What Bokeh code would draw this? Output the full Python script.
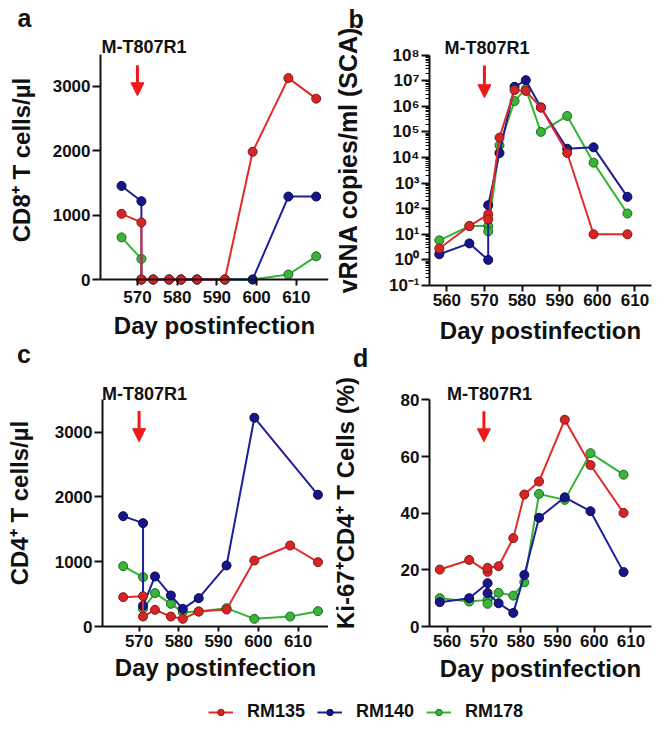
import math
from bokeh.plotting import figure
from bokeh.layouts import column, row
from bokeh.models import (Range1d, FixedTicker, Label, Arrow, NormalHead, Span,
                          Legend, LegendItem, Div)
from bokeh.embed import file_html
from bokeh.resources import INLINE

FONT = "Liberation Sans"
TXT = "#111111"
ARROW_COLOR = "#EE1A1A"

# ---------------- data ----------------
treatment_day = 570
treatment_label = "M-T807R1"
animals = ["RM135", "RM140", "RM178"]

# panel a : CD8+ T cells/ul
a_days = [566, 571, 571, 574, 578, 581, 585, 592, 599, 608, 615]
a_rm135 = [1020, 886, 0, 0, 0, 0, 0, 0, 1983, 3127, 2808]
a_rm140 = [1453, 1216, 0, 0, 0, 0, 0, 0, 0, 1288, 1288]
a_rm178 = [654, 320, 0, 0, 0, 0, 0, 0, 0, 77, 360]

# panel b : vRNA copies/ml (SCA)
b_days = [558, 566, 571, 571, 574, 578, 581, 585, 592, 599, 608]
b_rm135 = [2.8, 21, 60, 38, 6.0e4, 4.3e6, 4.0e6, 9.0e5, 1.5e4, 10, 10]
b_rm140 = [1.66, 4.4, 1.0, 137, 1.5e4, 5.8e6, 1.05e7, 9.0e5, 2.2e4, 2.5e4, 290]
b_rm178 = [5.8, 21, 21, 13, 3.0e4, 1.6e6, 4.8e6, 1.0e5, 4.2e5, 6.3e3, 65]

# panel c : CD4+ T cells/ul
c_days = [566, 571, 571, 574, 578, 581, 585, 592, 599, 608, 615]
c_days_rm140 = [566, 571, 571, 574, 578, 581, 585, 592, 599, 615]
c_rm135 = [453, 468, 154, 257, 154, 118, 231, 262, 1019, 1250, 993]
c_rm140 = [1703, 1595, 320, 772, 479, 273, 437, 942, 3222, 2033]
c_rm178 = [931, 762, 273, 515, 350, 221, 231, 283, 118, 154, 237]

# panel d : Ki-67+CD4+ T cells (%)
d_days = [558, 566, 571, 571, 574, 578, 581, 585, 592, 599, 608]
d_rm135 = [20.1, 23.5, 19.3, 20.7, 21.3, 31.2, 46.6, 51.2, 73.0, 57.0, 40.1]
d_rm140 = [8.6, 10.0, 15.3, 11.8, 8.2, 4.8, 18.2, 38.4, 45.6, 40.7, 19.2]
d_rm178 = [10.0, 8.8, 9.4, 8.0, 11.9, 10.9, 15.6, 46.8, 44.7, 61.2, 53.6]

a_xticks = [570, 580, 590, 600, 610]
b_xticks = [560, 570, 580, 590, 600, 610]
a_yticks = [0, 1000, 2000, 3000]
d_yticks = [0, 20, 40, 60, 80]
b_exponents = list(range(-1, 9))

LINE = {"RM135": "#E12A2A", "RM140": "#1E1E9C", "RM178": "#33B533"}
FILL = {"RM135": "#D42626", "RM140": "#16168A", "RM178": "#3AB43A"}
EDGE = {"RM135": "#8A1515", "RM140": "#0A0A4A", "RM178": "#1F6A1F"}

SUP = str.maketrans("-0123456789", "⁻⁰¹²³⁴⁵⁶⁷⁸⁹")
W = 666


def make_fig(w, h, borders, xr, yr, ybounds, ylog=False):
    l, r, t, b = borders
    p = figure(width=w, height=h, x_range=Range1d(*xr), y_range=Range1d(*yr),
               y_axis_type="log" if ylog else "linear",
               output_backend="svg", toolbar_location=None,
               min_border_left=l, min_border_right=r, min_border_top=t,
               min_border_bottom=b)
    p.outline_line_color = None
    p.xgrid.visible = False
    p.ygrid.visible = False
    p.background_fill_color = "white"
    p.border_fill_color = "white"
    for ax in (p.xaxis[0], p.yaxis[0]):
        ax.axis_line_width = 2
        ax.axis_line_color = TXT
        ax.major_tick_line_width = 2
        ax.major_tick_line_color = TXT
        ax.major_tick_in = 0
        ax.minor_tick_line_color = None
        ax.major_label_text_font = FONT
        ax.major_label_text_font_style = "bold"
        ax.major_label_text_font_size = "17px"
        ax.major_label_text_color = TXT
        ax.axis_label_text_font = FONT
        ax.axis_label_text_font_style = "bold"
        ax.axis_label_text_font_size = "24px"
        ax.axis_label_text_color = TXT
    p.yaxis[0].bounds = ybounds
    return p


def add_series(p, days, vals, name):
    lr = p.line(days, vals, line_color=LINE[name], line_width=2)
    sr = p.scatter(days, vals, size=9, fill_color=FILL[name],
                   line_color=EDGE[name], line_width=1)
    return lr, sr


def decorate(p, lab_dx, lab_dy, letter=None, letter_dx=0, letter_standoff=0,
             ylog=False):
    ys, ye = p.yaxis[0].bounds
    if ylog:
        lo, hi = math.log10(ys), math.log10(ye)
        y0 = 10 ** (lo + 0.955 * (hi - lo))
        y1 = 10 ** (lo + 0.815 * (hi - lo))
    else:
        y0 = ye * 0.95
        y1 = ye * 0.815
    p.add_layout(Arrow(end=NormalHead(size=13, fill_color=ARROW_COLOR,
                                      line_color=ARROW_COLOR, line_width=1),
                       x_start=treatment_day, y_start=y0,
                       x_end=treatment_day, y_end=y1,
                       line_color=ARROW_COLOR, line_width=3))
    p.add_layout(Label(x=treatment_day, y=ye, x_offset=lab_dx, y_offset=lab_dy,
                       text=treatment_label,
                       text_align="left", text_baseline="middle",
                       text_font=FONT, text_font_style="bold",
                       text_font_size="18px", text_color=TXT))
    if letter:
        t = p.title
        t.text = letter
        t.align = "left"
        t.offset = letter_dx
        t.text_font = FONT
        t.text_font_style = "bold"
        t.text_font_size = "25px"
        t.text_color = TXT
        t.vertical_align = "bottom"
        t.standoff = letter_standoff


def yaxis_setup(p, ticks, standoff):
    ax = p.yaxis[0]
    ax.ticker = FixedTicker(ticks=ticks)
    ax.major_tick_out = 8
    ax.major_label_standoff = 2
    ax.axis_label_standoff = standoff


def xaxis_setup(p, ticks, tick_out, lab_standoff, axlab_standoff):
    ax = p.xaxis[0]
    ax.ticker = FixedTicker(ticks=ticks)
    ax.major_tick_out = tick_out
    ax.major_label_standoff = lab_standoff
    ax.axis_label_standoff = axlab_standoff
    ax.axis_label = "Day postinfection"


# ---------------- panel a ----------------
pa = make_fig(330, 348, (100, 2, 34, 62), (560.7, 618.1), (-93, 3804), (0, 3500))
for name, vals in zip(animals[::-1], [a_rm178, a_rm140, a_rm135]):
    add_series(pa, a_days, vals, name)
xaxis_setup(pa, a_xticks, 0, 5, 6)
pa.xaxis[0].axis_line_color = None
pa.xaxis[0].major_tick_in = 6
pa.add_layout(Span(location=0, dimension="width", line_color=TXT, line_width=2))
yaxis_setup(pa, a_yticks, 15)
pa.yaxis[0].axis_label = "CD8⁺ T cells/µl"
decorate(pa, -36, 7, "a", -83, 4.4)

# ---------------- panel b ----------------
pb = make_fig(336, 348, (91, 15, 34, 63), (555.4, 614.4), (0.1, 10 ** 8.805),
              (0.1, 1e8), ylog=True)
for name, vals in zip(animals[::-1], [b_rm178, b_rm140, b_rm135]):
    add_series(pb, b_days, vals, name)
xaxis_setup(pb, b_xticks, 6, 2, 8)
major = [10.0 ** k for k in b_exponents]
minor = [m * 10.0 ** k for k in b_exponents[:-1] for m in range(2, 10)]
pb.yaxis[0].ticker = FixedTicker(ticks=major, minor_ticks=minor)
pb.yaxis[0].major_tick_out = 8
pb.yaxis[0].major_label_standoff = 2
pb.yaxis[0].minor_tick_line_color = TXT
pb.yaxis[0].minor_tick_line_width = 1
pb.yaxis[0].minor_tick_out = 4
pb.yaxis[0].minor_tick_in = 0
pb.yaxis[0].axis_label_standoff = 24
pb.yaxis[0].axis_label_text_font_size = "25px"
pb.yaxis[0].major_label_overrides = {10.0 ** k: "10" + str(k).translate(SUP)
                                     for k in b_exponents}
pb.yaxis[0].axis_label = "vRNA copies/ml (SCA)"
decorate(pb, -40, 7, "b", -81, 3.4, ylog=True)

# ---------------- letters c / d (strip between the rows) ----------------
strip = Div(width=W, height=22, margin=(0, 0, 0, 0), text=(
    "<div style=\"position:relative;width:666px;height:22px;"
    "font-family:'Liberation Sans',sans-serif;font-weight:bold;"
    "font-size:25px;line-height:25px;color:#111111\">"
    "<span style=\"position:absolute;left:17px;top:-6px\">c</span>"
    "<span style=\"position:absolute;left:353px;top:-2px\">d</span>"
    "</div>"))

# ---------------- panel c ----------------
pc = make_fig(328, 320, (102, 0, 9, 64), (560.8, 617.65), (0, 3812), (0, 3500))
add_series(pc, c_days, c_rm178, "RM178")
add_series(pc, c_days_rm140, c_rm140, "RM140")
add_series(pc, c_days, c_rm135, "RM135")
xaxis_setup(pc, a_xticks, 5, 3, 4)
yaxis_setup(pc, a_yticks, 19)
pc.yaxis[0].axis_label = "CD4⁺ T cells/µl"
decorate(pc, -37, 6)

# ---------------- panel d ----------------
pd_ = make_fig(338, 320, (93, 15, 9, 64), (555.2, 615.6), (0, 87.2), (0, 80))
for name, vals in zip(animals[::-1], [d_rm178, d_rm140, d_rm135]):
    add_series(pd_, d_days, vals, name)
xaxis_setup(pd_, b_xticks, 6, 2, 5)
yaxis_setup(pd_, d_yticks, 39)
pd_.yaxis[0].axis_label = "Ki-67⁺CD4⁺ T Cells (%)"
decorate(pd_, -37, 6)

# ---------------- legend ----------------
pl = figure(width=W, height=43, output_backend="svg", toolbar_location=None,
            min_border_left=0, min_border_right=0, min_border_top=0,
            min_border_bottom=0, x_range=Range1d(0, 1), y_range=Range1d(0, 1))
pl.axis.visible = False
pl.grid.visible = False
pl.outline_line_color = None
items = []
for name, vals in zip(animals, [a_rm135, a_rm140, a_rm178]):
    # series drawn off-range: only their legend swatches are visible
    lr = pl.line(a_days, vals, line_color=LINE[name], line_width=2)
    sr = pl.scatter(a_days, vals, size=8, fill_color=FILL[name],
                    line_color=EDGE[name], line_width=1)
    items.append(LegendItem(label=name, renderers=[lr, sr]))
leg = Legend(items=items, orientation="horizontal", location=(208, 11),
             padding=0, margin=0, spacing=12, label_standoff=14,
             glyph_width=25, glyph_height=16, label_height=16,
             label_text_font=FONT, label_text_font_style="bold",
             label_text_font_size="18px", label_text_color=TXT,
             border_line_color=None, background_fill_alpha=0)
pl.add_layout(leg)

layout = column(row(pa, pb), strip, row(pc, pd_), pl)
open("out.html", "w").write(file_html(layout, INLINE))
